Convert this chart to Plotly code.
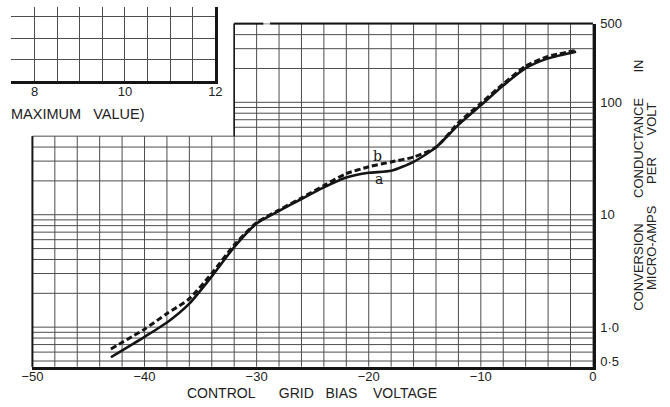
import math
import plotly.graph_objects as go

# ---------------- data ----------------
# curve a (solid)
bias_a = [-43, -40, -38, -36, -34, -32, -30, -28, -26, -24, -22, -20, -18, -16, -14, -12, -10, -8, -6, -4, -1.5]
gc_a = [0.54, 0.82, 1.10, 1.62, 2.83, 5.16, 8.35, 10.8, 13.8, 17.5, 21.4, 23.6, 24.6, 29.5, 39.8, 63, 94, 141, 201, 246, 282]
# curve b (dashed)
bias_b = [-43, -40, -38, -36, -34, -32, -30, -28, -26, -24, -22, -20, -18, -16, -14, -12, -10, -8, -6, -4, -1.5]
gc_b = [0.64, 0.96, 1.32, 1.79, 3.01, 5.37, 8.5, 11.0, 14.1, 18.2, 23.2, 26.7, 29.5, 32.6, 39.8, 65.6, 98, 146, 210, 256, 290]

# main x axis: grid every 2 V, labels every 10 V
x_grid = list(range(-50, 1, 2))
x_labels = {-50: "\u221250", -40: "\u221240", -30: "\u221230", -20: "\u221220", -10: "\u221210", 0: "0"}
# main y axis (log): grid lines and labels
y_grid = [0.5, 0.6, 0.7, 0.8, 0.9, 1, 2, 3, 4, 5, 6, 7, 8, 9, 10, 20, 30, 40, 50, 60, 70, 80, 90,
          100, 200, 300, 400, 500]
y_labels = {0.5: "0\u00b75", 1: "1\u00b70", 10: "10", 100: "100", 500: "500"}
# the printed grid is blank left of -32 V above 50
cut_x, cut_y = -32, 50

# partial neighbouring chart (top-left)
x2_grid = [7.5, 8, 8.5, 9, 9.5, 10, 10.5, 11, 11.5, 12]
x2_labels = {8: "8", 10: "10", 12: "12"}
y2_grid = [1, 2, 3]

W, H = 670, 407
FONT = "Liberation Sans"
GRID = "#4d4d4d"
INK = "#151515"

# plot-area geometry (pixels)
PX_L, PX_R, PX_T, PX_B = 22, 598, 17, 368
y_range = [2.699 - (PX_B - PX_T) / 115, 2.7]
x_range = [-50, 0]


def px_x(p):
    return p / W


def px_y(p):
    return 1 - p / H


def data_to_px_x(v):
    return PX_L + (v - x_range[0]) / (x_range[1] - x_range[0]) * (PX_R - PX_L)


def data_to_px_y(v):
    return PX_B - (math.log10(v) - y_range[0]) / (y_range[1] - y_range[0]) * (PX_B - PX_T)


y_bot, y_top = 10 ** y_range[0], 10 ** y_range[1]

# grid of the main chart as line traces (so the blank corner stays blank)
gx, gy = [], []
for v in x_grid:
    gx += [v, v, None]
    gy += [y_bot, (cut_y if v < cut_x else y_top), None]
for v in y_grid:
    gx += [(cut_x if v > cut_y else x_range[0]), x_range[1], None]
    gy += [v, v, None]

fig = go.Figure()
fig.add_trace(go.Scatter(x=gx, y=gy, mode="lines", line=dict(color=GRID, width=1),
                         showlegend=False, hoverinfo="skip"))
fig.add_trace(go.Scatter(x=bias_a, y=gc_a, mode="lines",
                         line=dict(color=INK, width=2.6, shape="spline", smoothing=0.6),
                         showlegend=False, hoverinfo="skip"))
fig.add_trace(go.Scatter(x=bias_b, y=gc_b, mode="lines",
                         line=dict(color=INK, width=3, dash="6px,3px", shape="spline", smoothing=0.6),
                         showlegend=False, hoverinfo="skip"))
# invisible trace to create the second subplot
fig.add_trace(go.Scatter(x=[8], y=[1], xaxis="x2", yaxis="y2", mode="markers",
                         marker=dict(opacity=0), showlegend=False, hoverinfo="skip"))

cx = data_to_px_x(cut_x)
cy = data_to_px_y(cut_y)
gap0, gap1 = data_to_px_x(-29.4), data_to_px_x(-28.8)

shapes = [
    # top border (with small gap as in the print)
    dict(type="line", xref="paper", yref="paper", x0=px_x(cx), x1=px_x(gap0), y0=px_y(PX_T), y1=px_y(PX_T),
         line=dict(color=INK, width=2)),
    dict(type="line", xref="paper", yref="paper", x0=px_x(gap1), x1=px_x(PX_R), y0=px_y(PX_T), y1=px_y(PX_T),
         line=dict(color=INK, width=2)),
    # left borders
    dict(type="line", xref="paper", yref="paper", x0=px_x(PX_L), x1=px_x(PX_L), y0=px_y(PX_B), y1=px_y(cy),
         line=dict(color=INK, width=2)),
    dict(type="line", xref="paper", yref="paper", x0=px_x(cx), x1=px_x(cx), y0=px_y(cy), y1=px_y(PX_T),
         line=dict(color=INK, width=1.5)),
]

NB = "\u00a0"
C = dict(xanchor="center", yanchor="middle", showarrow=False)
annotations = [
    dict(x=-19.2, y=math.log10(33.5), xref="x", yref="y", text="b",
         font=dict(family="DejaVu Serif", size=14, color=INK), **C),
    dict(x=-19.1, y=math.log10(21.0), xref="x", yref="y", text="a",
         font=dict(family="DejaVu Serif", size=14, color=INK), **C),
    dict(x=px_x(309), y=px_y(395), xref="paper", yref="paper",
         text="CONTROL" + NB * 6 + "GRID" + NB * 3 + "BIAS" + NB * 4 + "VOLTAGE",
         font=dict(family=FONT, size=14, color="#222"), **C),
    dict(x=px_x(645), y=px_y(182), xref="paper", yref="paper", textangle=-90,
         text="CONVERSION" + NB * 7 + "CONDUCTANCE" + NB * 7 + "IN",
         font=dict(family=FONT, size=13, color="#222"), **C),
    dict(x=px_x(658), y=px_y(193), xref="paper", yref="paper", textangle=-90,
         text="MICRO-AMPS" + NB * 6 + "PER" + NB * 6 + "VOLT",
         font=dict(family=FONT, size=13, color="#222"), **C),
    # caption of the neighbouring chart (its opening bracket lies off the page in the print)
    dict(x=px_x(139), y=px_y(109), xref="paper", yref="paper", xanchor="right", yanchor="middle",
         showarrow=False, text="MAXIMUM" + NB * 3 + "VALUE)",
         font=dict(family=FONT, size=14.5, color="#222")),
]

tickfont = dict(family=FONT, size=13, color="#222")

fig.update_layout(
    width=W, height=H, autosize=False,
    margin=dict(l=0, r=0, t=0, b=0),
    paper_bgcolor="white", plot_bgcolor="white",
    showlegend=False,
    xaxis=dict(domain=[px_x(PX_L), px_x(PX_R)], range=x_range, anchor="y",
               tickvals=x_grid, ticktext=[x_labels.get(v, "") for v in x_grid],
               showgrid=False, zeroline=False,
               showline=True, linecolor=INK, linewidth=2.5, ticks="", ticklabelstandoff=-4,
               tickfont=tickfont, fixedrange=True),
    yaxis=dict(domain=[px_y(PX_B), px_y(PX_T)], type="log", range=y_range, anchor="x", side="right",
               tickvals=y_grid, ticktext=[y_labels.get(v, "") for v in y_grid],
               showgrid=False, zeroline=False,
               showline=True, linecolor=INK, linewidth=2.5, ticks="", ticklabelstandoff=2,
               tickfont=tickfont, fixedrange=True),
    xaxis2=dict(domain=[0, px_x(210)], range=[7.48, 12], anchor="y2",
                tickvals=x2_grid, ticktext=[x2_labels.get(v, "") for v in x2_grid],
                showgrid=True, gridcolor=GRID, gridwidth=1, zeroline=False,
                showline=True, linecolor=INK, linewidth=2.5, ticks="", ticklabelstandoff=-4,
                tickfont=tickfont, fixedrange=True),
    yaxis2=dict(domain=[px_y(76), 1], range=[0, 3.45], anchor="x2", side="right",
                tickvals=y2_grid, showticklabels=False,
                showgrid=True, gridcolor=GRID, gridwidth=1, zeroline=False,
                showline=True, linecolor=INK, linewidth=2.5, ticks="", fixedrange=True),
    shapes=shapes,
    annotations=annotations,
)

fig.write_html("out.html", config={"displayModeBar": False},
               post_script="document.body.style.margin='0';document.body.style.overflow='hidden';")
